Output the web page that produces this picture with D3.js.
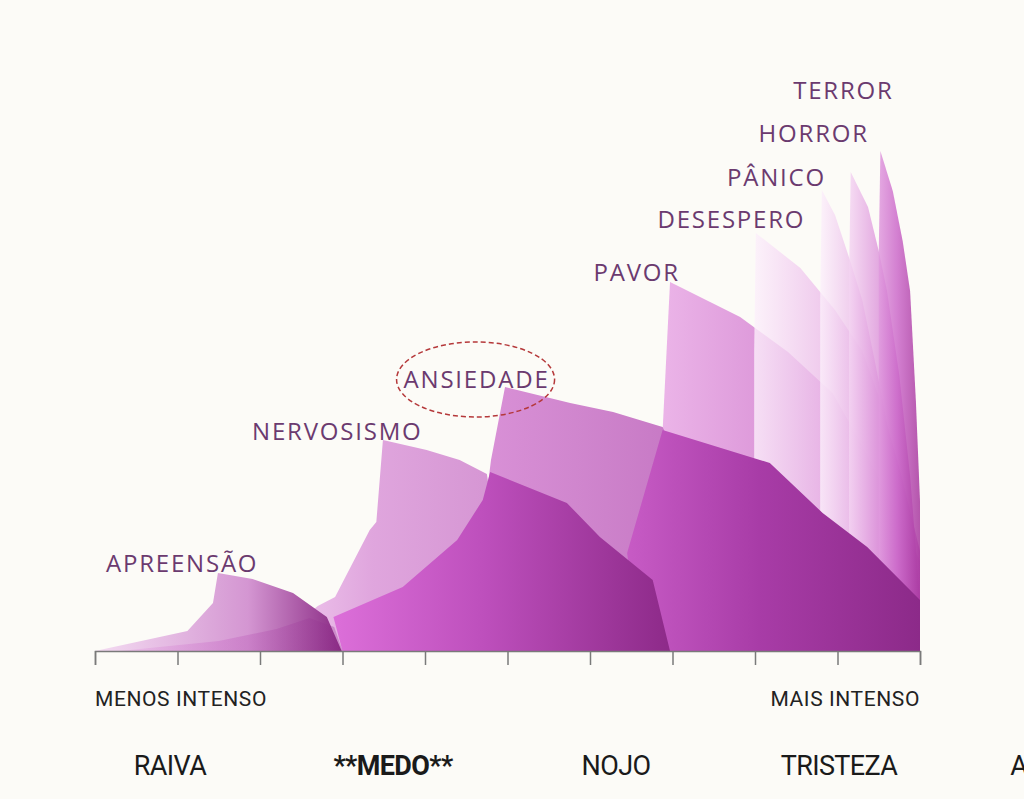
<!DOCTYPE html>
<meta charset="utf-8">
<style>
body {
  margin: 0;
  padding: 0;
  background: #fcfbf7;
}
.axis .domain, .axis line {
  stroke: #7a7a7a;
  stroke-width: 1.5;
}
</style>
<svg width="1024" height="799"></svg>
<script src="https://d3js.org/d3.v7.min.js"></script>
<script>

// shapes: [intensity (0-10), strength (0-100)]
var apreensao = [[0,0],[1.12,4],[1.43,9.6],[1.49,15.6],[1.91,14.4],[2.4,11.6],[2.81,6.8],[2.99,0]];
var apreensaoBase = [[0.3,0],[1.5,2],[2.2,4.4],[2.6,6.6],[2.9,4.8],[3.0,0]];
var nervosismo = [[2.03,0],[2.7,9],[2.91,10.8],[3.33,24.2],[3.41,25.8],[3.49,42.2],[4.02,40.2],[4.42,38.2],[4.75,35.4],[4.8,30],[5.0,0]];
var ansiedade = [[4.6,0],[4.75,31.6],[4.8,38.2],[4.97,52.8],[5.76,49.6],[6.28,47.8],[6.88,44.8],[7.3,30],[7.5,0]];
var pavor = [[6.9,0],[6.88,44],[6.97,73.8],[7.82,66.8],[8.4,59.8],[8.94,51.6],[9.27,42],[9.64,30],[10,18],[10,0]];
var pavorBase = [[6.6,0],[6.45,19.6],[6.88,44.2],[8.18,37.6],[8.82,27.6],[9.36,20.8],[10,10.2],[10,0]];
var medoBase = [[3,0],[2.89,6.8],[3.73,12.8],[4.39,22.2],[4.7,30.2],[4.79,35.8],[5.72,29.6],[6.12,22.8],[6.76,14.2],[6.97,0]];
var desespero = [[7.99,0],[7.99,60],[8.01,83.6],[8.55,76.6],[8.97,68.2],[9.3,60],[9.52,50],[9.76,36],[10,20],[10,0]];
var panico = [[8.79,0],[8.79,70],[8.81,92.2],[8.97,87.2],[9.15,78.2],[9.3,70.2],[9.45,58.2],[9.64,42.2],[9.82,24.2],[10,6],[10,0]];
var horror = [[9.14,0],[9.14,75],[9.16,95.8],[9.37,88.8],[9.5,80],[9.6,72],[9.75,55],[9.88,35],[10,10],[10,0]];
var terror = [[9.5,0],[9.5,80],[9.52,100],[9.67,92],[9.79,82],[9.88,72],[9.95,50],[10,30],[10,0]];

// label text, right end (intensity), baseline (strength)
var labelNames = ["APREENSÃO","NERVOSISMO","ANSIEDADE","PAVOR","DESESPERO","PÂNICO","HORROR","TERROR"];
var labelEnds = [1.98, 3.97, 5.51, 7.09, 8.61, 8.86, 9.38, 9.68];
var labelLevels = [15.8, 42.2, 52.6, 74, 84.6, 93, 101.8, 110.4];

var categories = ["RAIVA","**MEDO**","NOJO","TRISTEZA","ALEGRIA"];

var svg = d3.select("svg");

var x = d3.scaleLinear().domain([0, 10]).range([95, 920]);
var y = d3.scaleLinear().domain([0, 100]).range([651, 151]);

var layers = [
  {name: "pavor", pts: pavor, c: ["#eab0e7", "#d98fd6", "#c670c4"], op: 0.95},
  {name: "desespero", pts: desespero, c: ["#fcf0fb", "#ebbae9", "#c860c6"], op: 0.8},
  {name: "panico", pts: panico, c: ["#fcf0fb", "#e6aee4", "#c255c0"], op: 0.8},
  {name: "horror", pts: horror, c: ["#f4d4f2", "#db90d9", "#b846b6"], op: 0.8},
  {name: "terror", pts: terror, c: ["#e09ade", "#cc6aca", "#a8399f"], op: 0.85},
  {name: "ansiedade", pts: ansiedade, c: ["#d88cd6", "#cd7fcb", "#c06cbe"], op: 0.95},
  {name: "pavorBase", pts: pavorBase, c: ["#c75bc5", "#a83ca7", "#8c2a89"], op: 1},
  {name: "nervosismo", pts: nervosismo, c: ["#f3cdf1", "#dea1dc", "#d28ed0"], op: 0.95},
  {name: "medoBase", pts: medoBase, c: ["#dc6fd9", "#bd4fbc", "#8d2a89"], op: 1},
  {name: "apreensao", pts: apreensao, c: ["#f4dcf2", "#d496d2", "#8a2a84"], op: 1, mid: "62%"},
  {name: "apreensaoBase", pts: apreensaoBase, c: ["#e69fe3", "#c35bc1", "#8a2a86"], op: 0.3}
];

var defs = svg.append("defs");
layers.forEach(function(l) {
  var g = defs.append("linearGradient")
      .attr("id", "grad-" + l.name)
      .attr("x1", 0).attr("x2", 1).attr("y1", 0).attr("y2", 0);
  g.append("stop").attr("offset", "0%").attr("stop-color", l.c[0]);
  g.append("stop").attr("offset", l.mid || "45%").attr("stop-color", l.c[1]);
  g.append("stop").attr("offset", "100%").attr("stop-color", l.c[2]);
});

var line = d3.line()
    .x(function(d) { return x(d[0]); })
    .y(function(d) { return y(d[1]); });

svg.append("g")
  .selectAll("path")
  .data(layers)
  .enter().append("path")
    .attr("d", function(d) { return line(d.pts) + "Z"; })
    .attr("fill", function(d) { return "url(#grad-" + d.name + ")"; })
    .attr("fill-opacity", function(d) { return d.op; });

// axis
svg.append("g")
    .attr("class", "axis")
    .attr("transform", "translate(0," + y(0) + ")")
    .call(d3.axisBottom(x).ticks(10).tickSize(14).tickSizeOuter(14).tickFormat(""));

// emotion labels
var labels = svg.append("g")
    .attr("font-family", "'Open Sans', sans-serif")
    .attr("font-size", 24)
    .attr("letter-spacing", 1.8)
    .attr("fill", "#6b3a6f")
    .attr("text-anchor", "end")
  .selectAll("text")
  .data(labelNames)
  .enter().append("text")
    .attr("x", function(d, i) { return x(labelEnds[i]); })
    .attr("y", function(d, i) { return y(labelLevels[i]); })
    .text(function(d) { return d; });

// dashed ring round ANSIEDADE
var bb = labels.filter(function(d) { return d == "ANSIEDADE"; }).node().getBBox();
svg.append("ellipse")
    .attr("cx", bb.x + bb.width / 2 - 1)
    .attr("cy", bb.y + bb.height / 2 + 1)
    .attr("rx", bb.width / 2 + 6)
    .attr("ry", bb.height / 2 + 21)
    .attr("fill", "none")
    .attr("stroke", "#b5383a")
    .attr("stroke-width", 1.5)
    .attr("stroke-dasharray", "5,3");

// intensity captions
svg.append("text")
    .attr("x", x(0))
    .attr("y", 706)
    .attr("font-family", "Roboto, sans-serif")
    .attr("font-size", 21)
    .attr("letter-spacing", 0.6)
    .attr("fill", "#222")
    .text("MENOS INTENSO");

svg.append("text")
    .attr("x", x(10))
    .attr("y", 706)
    .attr("text-anchor", "end")
    .attr("font-family", "Roboto, sans-serif")
    .attr("font-size", 21)
    .attr("letter-spacing", 0.6)
    .attr("fill", "#222")
    .text("MAIS INTENSO");

// emotion families
var cx = d3.scalePoint().domain(categories).range([170, 1062]);

svg.append("g")
    .attr("font-family", "Roboto, sans-serif")
    .attr("font-size", 27)
    .attr("letter-spacing", -0.6)
    .attr("fill", "#1a1a1a")
    .attr("text-anchor", "middle")
  .selectAll("text")
  .data(categories)
  .enter().append("text")
    .attr("x", function(d) { return cx(d); })
    .attr("y", 775)
    .attr("font-weight", function(d) { return d == "**MEDO**" ? "bold" : "normal"; })
    .text(function(d) { return d; });

</script>
